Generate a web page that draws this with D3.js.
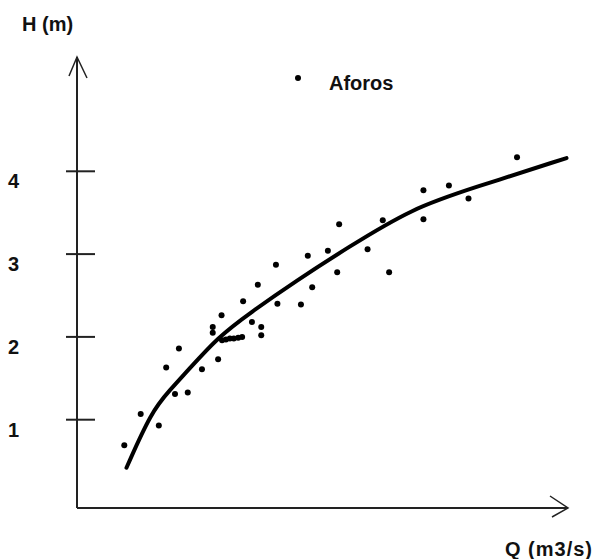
<html>
    <head>
        <script src="https://d3js.org/d3.v7.min.js"></script>
        <style>
            body { margin: 0; background: #fff; }
            text { font-family: "Liberation Sans", Arial, sans-serif; font-weight: bold; fill: #111; }
        </style>
    </head>
    <body>
        <svg id="chart" width="596" height="559"></svg>
        <script>
          // Aforos (gaugings): discharge Q and stage H
          const aforoQ = [9.65, 13.0, 16.7, 18.2, 20.0, 22.6, 20.8, 25.5, 28.8, 27.7, 27.7, 29.5, 33.9, 35.7, 37.6, 37.6, 36.9, 40.6, 40.9, 45.7, 47.1, 48.0, 51.2, 53.1, 53.5, 59.3, 62.4, 63.7, 70.7, 70.7, 75.9, 79.9, 89.8,
                          29.6, 30.4, 31.2, 32.0, 32.9, 33.7];
          const aforoH = [0.69, 1.07, 0.93, 1.63, 1.31, 1.33, 1.86, 1.61, 1.73, 2.12, 2.05, 2.26, 2.43, 2.18, 2.12, 2.02, 2.63, 2.87, 2.40, 2.39, 2.98, 2.60, 3.04, 2.78, 3.36, 3.06, 3.41, 2.78, 3.77, 3.42, 3.83, 3.67, 4.17,
                          1.96, 1.97, 1.98, 1.98, 1.99, 2.00];

          // fitted rating curve
          const curveQ = [10.1, 15.2, 19.0, 22.4, 28.8, 35.3, 44.8, 55.0, 68.6, 80.9, 99.9];
          const curveH = [0.42, 1.10, 1.36, 1.58, 2.00, 2.29, 2.68, 3.07, 3.56, 3.80, 4.16];

          const hTicks = [1, 2, 3, 4];
          const hTickLabels = ["1", "2", "3", "4"];

          const svg = d3.select("svg#chart");
          const width = +svg.attr("width");
          const height = +svg.attr("height");
          const margins = { top: 57, right: 28, bottom: 51, left: 77 };
          const chartWidth = width - margins.left - margins.right;
          const chartHeight = height - margins.top - margins.bottom;
          let chartArea = svg.append("g").attr("transform", `translate(${margins.left},${margins.top})`);

          const xScale = d3.scaleLinear().domain([0, 100]).range([0, chartWidth - 1]);
          const yScale = d3.scaleLinear().domain([0, 5]).range([chartHeight - 5.5, chartHeight - 5.5 - 414]);

          // axes with arrow heads
          chartArea.append("line")
            .attr("x1", 0).attr("y1", chartHeight).attr("x2", 0).attr("y2", 0)
            .attr("stroke", "#222").attr("stroke-width", 2);
          chartArea.append("line")
            .attr("x1", 0).attr("y1", chartHeight).attr("x2", chartWidth).attr("y2", chartHeight)
            .attr("stroke", "#222").attr("stroke-width", 2);
          chartArea.append("path")
            .attr("d", "M-8,19L0,0L10,21")
            .attr("fill", "none").attr("stroke", "#222").attr("stroke-width", 1.5);
          chartArea.append("path")
            .attr("transform", `translate(${chartWidth},${chartHeight})`)
            .attr("d", "M-18,-12L0,0L-16,9")
            .attr("fill", "none").attr("stroke", "#222").attr("stroke-width", 1.5);

          // tick marks crossing the H axis
          chartArea.selectAll("line.tick").data(hTicks)
            .join("line")
            .attr("class", "tick")
            .attr("x1", -11).attr("x2", 18)
            .attr("y1", d => yScale(d)).attr("y2", d => yScale(d))
            .attr("stroke", "#222").attr("stroke-width", 2);
          chartArea.selectAll("text.ticklab").data(hTicks)
            .join("text")
            .attr("class", "ticklab")
            .attr("x", 8 - margins.left)
            .attr("y", d => yScale(d) + 17)
            .attr("font-size", 20)
            .text((d, i) => hTickLabels[i]);

          // rating curve
          const curveData = curveQ.map((q, i) => ({ q: q, h: curveH[i] }));
          const lineGen = d3.line()
            .x(d => xScale(d.q))
            .y(d => yScale(d.h))
            .curve(d3.curveBasis);
          chartArea.append("path")
            .datum(curveData)
            .attr("fill", "none")
            .attr("stroke", "#000")
            .attr("stroke-width", 4)
            .attr("stroke-linejoin", "round")
            .attr("stroke-linecap", "round")
            .attr("d", lineGen);

          // gauging points
          const aforos = aforoQ.map((q, i) => ({ q: q, h: aforoH[i] }));
          chartArea.selectAll("circle.aforo").data(aforos)
            .join("circle")
            .attr("class", "aforo")
            .attr("r", 3)
            .attr("fill", "#000")
            .attr("cx", d => xScale(d.q))
            .attr("cy", d => yScale(d.h));

          // legend
          svg.append("circle").attr("cx", 298).attr("cy", 78).attr("r", 3).attr("fill", "#000");
          svg.append("text").attr("x", 329).attr("y", 90).attr("font-size", 20).text("Aforos");

          // axis titles
          svg.append("text").attr("x", 22).attr("y", 31).attr("font-size", 20).text("H (m)");
          svg.append("text").attr("x", 505).attr("y", 556).attr("font-size", 20)
            .attr("letter-spacing", 1).text("Q (m3/s)");
        </script>
    </body>
</html>
